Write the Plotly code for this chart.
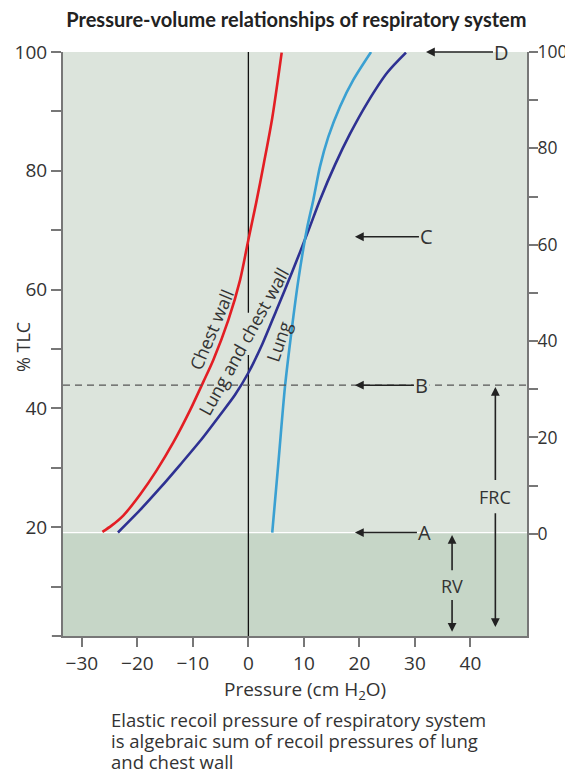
import plotly.graph_objects as go

# curve data: pressure (cm H2O) vs volume (% TLC)
chest_p = [-26.3, -24.6, -22.5, -19.5, -16.5, -13.5, -10.5, -8.1, -6.3, -3.6, -1.5, 0.0, 1.4, 2.8, 4.3, 6.0]
chest_v = [19.2, 20.3, 22.0, 25.5, 29.6, 34.3, 39.7, 44.5, 48.2, 54.9, 61.6, 68.4, 74.6, 81.3, 88.9, 99.9]

system_p = [-23.5, -19.5, -15.9, -12.3, -8.7, -5.1, -2.4, 0.0, 2.5, 5.0, 7.9, 10.8, 12.9,
            15.6, 18.3, 21.4, 25.0, 28.4]
system_v = [19.1, 22.9, 26.6, 30.5, 34.5, 38.9, 42.3, 46.0, 50.8, 56.4, 63.0, 69.9, 75.1,
            81.0, 86.2, 91.4, 96.5, 99.9]

lung_p = [4.3, 5.4, 6.6, 7.8, 9.0, 10.5, 11.7, 12.9, 14.4, 16.5, 18.9, 22.1]
lung_v = [19.1, 30.8, 43.7, 53.2, 61.6, 70.0, 75.1, 80.7, 85.7, 90.8, 95.3, 100.0]

# reference levels (% TLC)
rv_level = 19.1
frc_level = 43.9
c_level = 68.9
tlc_level = 100.0

x_ticks = [-30, -20, -10, 0, 10, 20, 30, 40]
y_ticks = [10, 20, 30, 40, 50, 60, 70, 80, 90, 100]
y_labels = ["", "20", "", "40", "", "60", "", "80", "", "100"]
y2_ticks = [0, 10, 20, 30, 40, 50, 60, 70, 80, 90, 100]
y2_labels = ["0", "", "20", "", "40", "", "60", "", "80", "", "100"]

caption = ["Elastic recoil pressure of respiratory system",
           "is algebraic sum of recoil pressures of lung",
           "and chest wall"]

x_range = [-33.4, 50.2]
y_range = [1.68, 100.0]
y2_range = [-21.2, 100.0]

FONT = "Open Sans, sans-serif"
TXT = "#333333"
AX = "#777777"
BG = "#dce4dc"
RV_BG = "#c6d6c7"

fig = go.Figure()

# zero-pressure line, broken where the label crosses it
fig.add_trace(go.Scatter(
    x=[0, 0, None, 0, 0], y=[y_range[0], 49.0, None, 56.1, tlc_level],
    mode="lines", line=dict(color="#111111", width=1.3), hoverinfo="skip", showlegend=False))

fig.add_trace(go.Scatter(x=chest_p, y=chest_v, mode="lines", name="Chest wall",
                         line=dict(color="#e31e24", width=2.6, shape="spline", smoothing=0.8),
                         showlegend=False))
fig.add_trace(go.Scatter(x=system_p, y=system_v, mode="lines", name="Lung and chest wall",
                         line=dict(color="#2e3192", width=2.6, shape="spline", smoothing=0.8),
                         showlegend=False))
fig.add_trace(go.Scatter(x=lung_p, y=lung_v, mode="lines", name="Lung",
                         line=dict(color="#3aa0d2", width=2.6, shape="spline", smoothing=0.8),
                         showlegend=False))
# dummy trace to keep the right axis alive
fig.add_trace(go.Scatter(x=[None], y=[None], yaxis="y2", showlegend=False))

# RV band and FRC dashed level
fig.add_shape(type="rect", xref="paper", x0=0, x1=1, yref="y", y0=y_range[0], y1=rv_level,
              fillcolor=RV_BG, line=dict(width=0), layer="below")
fig.add_shape(type="line", xref="paper", x0=0, x1=1, yref="y", y0=rv_level, y1=rv_level,
              line=dict(color="white", width=1.2), layer="below")
fig.add_shape(type="line", xref="paper", x0=0, x1=1, yref="y", y0=frc_level, y1=frc_level,
              line=dict(color="#555555", width=1.3, dash="7px,5px"))
# x axis line stub to the left of the y axis
fig.add_shape(type="line", xref="paper", x0=-0.024, x1=0, yref="paper", y0=0, y1=0,
              line=dict(color=AX, width=2))

ann = []
arrow = dict(showarrow=True, arrowhead=2, arrowsize=1.1, arrowwidth=1.6, arrowcolor="#222222",
             font=dict(size=20, color=TXT, family=FONT))

for label, lvl, x0, off in [("D", tlc_level, 32.0, 76), ("C", c_level, 19.2, 72),
                            ("B", frc_level, 19.2, 67), ("A", rv_level, 19.2, 70)]:
    a = dict(arrow, text=label, x=x0, y=lvl, ax=off, ay=0)
    if label == "B":
        a["bgcolor"] = BG
    ann.append(a)

# RV and FRC double arrows
rv_x, frc_x = 36.7, 44.5
ann += [
    dict(text="RV", x=rv_x, y=10.1, showarrow=False, font=dict(size=18, color=TXT, family=FONT)),
    dict(arrow, text="", x=rv_x, y=18.7, axref="x", ayref="y", ax=rv_x, ay=12.5),
    dict(arrow, text="", x=rv_x, y=2.4, axref="x", ayref="y", ax=rv_x, ay=8.0),
    dict(text="FRC", x=frc_x, y=25.1, showarrow=False, font=dict(size=18, color=TXT, family=FONT)),
    dict(arrow, text="", x=frc_x, y=43.6, axref="x", ayref="y", ax=frc_x, ay=27.7),
    dict(arrow, text="", x=frc_x, y=3.2, axref="x", ayref="y", ax=frc_x, ay=22.6),
]

# curve labels
for label, px, pv, ang in [("Chest wall", -6.7, 53.2, -67), ("Lung and chest wall", -0.8, 51.3, -61),
                           ("Lung", 5.5, 51.3, -71)]:
    ann.append(dict(text=label, x=px, y=pv, showarrow=False, textangle=ang,
                    font=dict(size=18, color=TXT, family=FONT)))

# axis titles
ann += [
    dict(text="% TLC", xref="paper", yref="paper", x=-0.086, y=0.495, xanchor="center",
         yanchor="middle", showarrow=False, textangle=-90, font=dict(size=18, color=TXT, family=FONT)),
    dict(text="Pressure (cm H<sub>2</sub>O)", xref="paper", yref="paper", x=0.522, y=-0.0925,
         xanchor="center", yanchor="middle", showarrow=False, font=dict(size=19, color=TXT, family=FONT)),
]
# caption, one annotation per line
for i, line in enumerate(caption):
    ann.append(dict(text=line, xref="paper", yref="paper", x=0.1, y=-0.1435 - 0.0359 * i,
                    xanchor="left", yanchor="middle", align="left", showarrow=False,
                    font=dict(size=18.5, color=TXT, family=FONT)))

# the page body adds an 8px offset, so the figure is made 8px smaller
fig.update_layout(
    width=565, height=761,
    margin=dict(l=55, r=46, t=44, b=133, autoexpand=False),
    paper_bgcolor="white", plot_bgcolor=BG,
    font=dict(family=FONT, size=18, color=TXT),
    title=dict(text="<b>Pressure-volume relationships of respiratory system</b>",
               x=0.503, xref="paper", xanchor="center", y=0.984, yanchor="middle",
               font=dict(size=20, color="#222222", family="Lato, sans-serif")),
    annotations=ann,
    xaxis=dict(range=x_range, tickvals=x_ticks, ticks="outside", ticklen=9, tickwidth=1.5,
               tickcolor=AX, showline=True, linecolor=AX, linewidth=2, showgrid=False,
               zeroline=False, automargin=False, tickfont=dict(size=19, color=TXT)),
    yaxis=dict(range=y_range, tickvals=y_ticks, ticktext=y_labels, ticks="outside", ticklen=10,
               tickwidth=1.5, tickcolor=AX, showline=True, linecolor=AX, linewidth=2,
               showgrid=False, zeroline=False, automargin=False, tickfont=dict(size=19, color=TXT)),
    yaxis2=dict(range=y2_range, overlaying="y", side="right", tickvals=y2_ticks, ticktext=y2_labels,
                ticks="outside", ticklen=9, tickwidth=1.5, tickcolor=AX, showline=True,
                linecolor=AX, linewidth=2, showgrid=False, zeroline=False, automargin=False,
                ticklabelstandoff=-4, tickfont=dict(size=17.5, color=TXT)),
)

fig.write_html("out.html")
